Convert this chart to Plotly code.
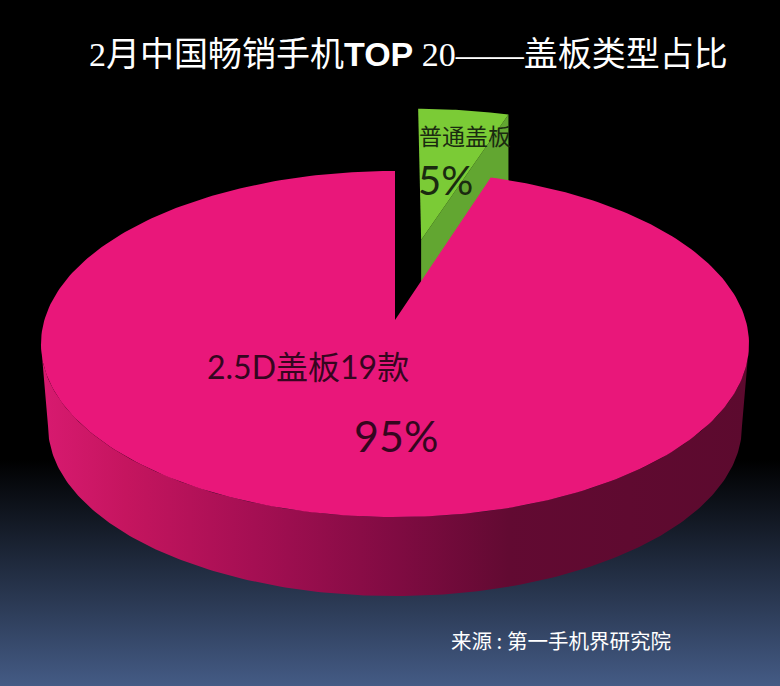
import numpy as np
import plotly.graph_objects as go

# data
labels = ["普通盖板", "2.5D盖板19款"]
shares = [5, 95]
share_labels = ["5%", "95%"]
title_text = '2月中国畅销手机<span style="font-family:Liberation Sans"><b>TOP</b></span> 20——盖板类型占比'
source_text = "来源 : 第一手机界研究院"

# fake 3D pie geometry, in page pixels
W, H = 780, 686
CX, CY = 395, 320
RX, RY = 350.6, 169.7
PERSP = 0.1387
WALL_DROP = 83
WALL_SCALE = 0.98
EXPLODE = 0.51

PINK = "#E9177A"
GREEN_TOP = "#7BCB36"
GREEN_WALL = "#62A631"
TEXT_ON_PINK = "#35061F"
TEXT_ON_GREEN = "#1A2A10"


def project(theta, dx=0.0, dz=0.0, drop=0.0, scale=1.0):
    # theta in radians, clockwise from the top of the pie
    u = np.sin(theta) + dx
    v = -np.cos(theta) + dz
    s = 1 / (1 - PERSP * v)
    return CX + RX * u * s * scale, CY + drop + RY * v * s * scale


def polygon(xs, ys, **kwargs):
    return go.Scatter(x=xs, y=ys, mode="lines", fill="toself", line=dict(width=0),
                      hoverinfo="skip", showlegend=False, **kwargs)


# slice angles come from the shares, first slice starts at the top
green_end = 2 * np.pi * shares[0] / sum(shares)
mid = green_end / 2
off_x, off_z = EXPLODE * np.sin(mid), -EXPLODE * np.cos(mid)

fig = go.Figure()

# background gradient (y axis is flipped, so the scale runs bottom to top)
fig.add_trace(polygon([0, W, W, 0], [0, 0, H, H], fillgradient=dict(
    type="vertical", colorscale=[[0, "#445B85"], [0.33, "#000000"], [1, "#000000"]])))

# green slice, pulled out
arc = np.linspace(0, green_end, 30)
gx, gy = project(arc, off_x, off_z)
apex_x = CX + RX * off_x / (1 - PERSP * off_z)
apex_y = CY + RY * off_z / (1 - PERSP * off_z)
fig.add_trace(polygon([apex_x, gx[-1], gx[-1], apex_x],
                      [apex_y, gy[-1], gy[-1] + WALL_DROP, apex_y + WALL_DROP],
                      fillcolor=GREEN_WALL))
fig.add_trace(polygon(np.r_[apex_x, gx], np.r_[apex_y, gy], fillcolor=GREEN_TOP))

# pink slice side wall
right = np.arccos(-PERSP)
front = np.linspace(right, 2 * np.pi - right, 200)
tx, ty = project(front)
bx, by = project(front, drop=WALL_DROP, scale=WALL_SCALE)
fig.add_trace(polygon(np.r_[tx, bx[::-1]], np.r_[ty, by[::-1]], fillgradient=dict(
    type="horizontal",
    colorscale=[[0, "#D81A70"], [0.12, "#C5155F"], [0.3, "#A50F53"], [0.5, "#800B42"],
                [0.66, "#620A32"], [1, "#5C0A2E"]])))

# pink slice top
arc = np.linspace(green_end, 2 * np.pi, 300)
px_, py_ = project(arc)
fig.add_trace(polygon(np.r_[CX, px_], np.r_[CY, py_], fillcolor=PINK))

cjk = "Noto Sans CJK SC"
fig.add_annotation(x=408, y=54, text=title_text,
                   font=dict(family=f"Liberation Serif, {cjk}", size=34, color="#FFFFFF"))
fig.add_annotation(x=465, y=135, text=labels[0], font=dict(family=cjk, size=23, color=TEXT_ON_GREEN))
fig.add_annotation(x=445, y=180, text=share_labels[0], font=dict(family="Lato", size=40, color=TEXT_ON_GREEN))
fig.add_annotation(x=308, y=366, text=labels[1], font=dict(family=f"Lato, {cjk}", size=32, color=TEXT_ON_PINK))
fig.add_annotation(x=396, y=435, text=share_labels[1], font=dict(family="Lato", size=43, color=TEXT_ON_PINK))
fig.add_annotation(x=561, y=640, text=source_text, font=dict(family=cjk, size=20.5, color="#FFFFFF"))
fig.update_annotations(showarrow=False, xref="x", yref="y")

fig.update_layout(
    width=W, height=H, margin=dict(l=0, r=0, t=0, b=0),
    paper_bgcolor="#000000", plot_bgcolor="#000000", showlegend=False,
    xaxis=dict(range=[0, W], visible=False, fixedrange=True),
    yaxis=dict(range=[H, 0], visible=False, fixedrange=True),
)

# the page body has an 8px margin by default, drop it so the figure fills the window
fig.write_html("out.html", config={"displayModeBar": False},
               post_script="document.body.style.margin='0';document.body.style.overflow='hidden';")
